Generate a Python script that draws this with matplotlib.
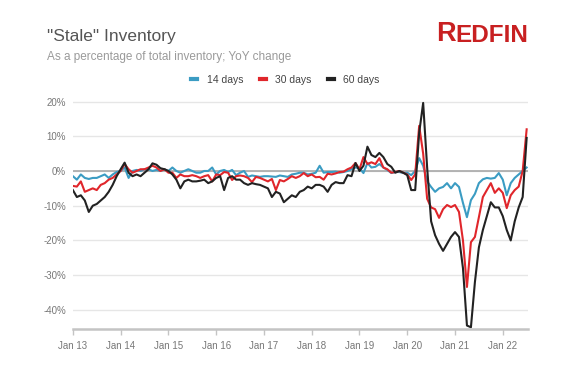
import matplotlib
matplotlib.use('Agg')
import matplotlib.pyplot as plt

plt.rcParams['font.family'] = ['Liberation Sans', 'DejaVu Sans']

# monthly YoY change (%), Jan 2013 - Jul 2022
days14 = [
    -1.5, -2.5, -1.0, -2.0, -2.3, -2.0, -2.0, -1.5, -1.0, -2.0, -1.0, -0.3,
    0.0, 1.0, -2.0, 0.0, 0.3, 0.0, 0.5, 0.5, 0.0, 0.3, 0.0, 0.5,
    0.0, 1.0, 0.0, -0.5, 0.0, 0.5, 0.0, -0.5, -0.5, 0.0, 0.0, 1.0,
    -1.0, 0.0, 0.3, -0.3, 0.3, -1.2, -0.5, 0.0, -1.7, -1.3, -1.5, -1.7,
    -1.5, -1.5, -1.6, -1.7, -1.3, -1.5, -1.7, -1.0, -0.8, -0.5, -0.5, -1.0,
    -0.8, -0.5, 1.5, -0.5, -0.3, -0.3, -0.2, -0.5, -0.3, 0.0, 0.5, 1.0,
    0.8, -0.6, 2.3, 1.0, 1.2, 2.0, 1.0, 0.3, -0.6, -0.3, -0.3, -0.6,
    -0.5, -1.2, 0.0, 3.7, 1.5, -3.0, -4.6, -6.0, -5.0, -4.6, -3.5, -5.0,
    -3.5, -4.6, -9.2, -13.3, -8.4, -6.6, -3.5, -2.4, -2.0, -2.2, -2.0, -0.6,
    -2.5, -7.0, -3.5, -2.0, -1.0, 0.0, 1.0,
]
days30 = [
    -4.3, -4.5, -3.0, -6.0, -5.5, -5.0, -5.5, -4.0, -3.5, -2.5, -2.0, -1.0,
    0.0, 2.0, 0.5, -0.5, 0.0, 0.5, 0.5, 1.0, 1.5, 1.0, 0.0, 0.5,
    -0.5, -0.5, -2.0, -1.0, -1.5, -1.5, -1.2, -1.5, -2.0, -1.5, -1.2, -3.0,
    -1.0, -1.2, -0.3, -0.5, -2.6, -1.5, -1.3, -1.5, -2.0, -3.2, -1.7, -2.0,
    -2.5, -3.0, -2.3, -5.5, -2.6, -3.0, -2.3, -1.5, -2.0, -1.5, -0.6, -1.5,
    -1.0, -1.8, -1.7, -2.5, -0.8, -1.0, -0.7, -0.3, -0.2, 0.5, 1.0, 2.3,
    0.5, 4.0, 2.0, 2.5, 2.0, 3.7, 1.0, 0.5, -0.5, -0.3, 0.0, -0.5,
    -1.0, -2.6, -1.0, 13.0, 5.0, -8.0, -10.5, -11.0, -13.5, -11.0, -9.8, -10.4,
    -9.8, -11.8, -20.0, -33.4, -20.5, -19.0, -13.3, -7.5, -5.5, -3.5, -6.3, -5.0,
    -6.3, -10.7, -7.0, -5.5, -4.5, 0.0, 12.0,
]
days60 = [
    -5.5, -7.5, -7.0, -8.5, -11.8, -10.0, -9.5, -8.5, -7.5, -6.0, -4.0, -1.5,
    0.5, 2.4, -0.5, -1.5, -1.0, -1.5, -0.5, 0.5, 2.2, 1.8, 0.8, 0.5,
    0.0, -1.0, -2.5, -5.0, -3.0, -2.5, -3.0, -3.0, -2.8, -2.5, -3.5, -3.0,
    -2.0, -1.5, -5.5, -2.0, -1.5, -2.5, -2.5, -3.5, -4.0, -3.5, -3.8, -4.0,
    -4.5, -5.0, -7.5, -6.0, -6.5, -9.0, -8.0, -7.0, -7.5, -6.0, -5.5, -4.5,
    -5.0, -4.0, -4.0, -4.5, -6.0, -4.0, -3.2, -3.5, -3.5, -1.2, -1.5, 2.3,
    0.0, 1.5, 7.0, 4.6, 4.0, 5.2, 4.0, 2.0, 1.2, -0.5, 0.0, -0.5,
    -1.2, -5.5, -5.5, 11.0, 19.6, 1.0, -14.5, -18.5, -21.0, -23.0, -21.0, -19.0,
    -17.6, -19.0, -28.0, -44.5, -45.0, -32.0, -22.0, -17.0, -13.0, -9.0, -10.5, -10.5,
    -13.0, -17.0, -20.0, -14.5, -10.5, -7.5, 9.5,
]
year_labels = ['Jan 13', 'Jan 14', 'Jan 15', 'Jan 16', 'Jan 17',
               'Jan 18', 'Jan 19', 'Jan 20', 'Jan 21', 'Jan 22']
y_ticks = [20, 10, 0, -10, -20, -30, -40]

x = list(range(len(days60)))

fig = plt.figure(figsize=(5.83, 3.68), dpi=100)
ax = fig.add_axes([0.125, 0.106, 0.7804, 0.637])

ax.plot(x, days14, color='#3b9cc3', lw=1.5, label='14 days')
ax.plot(x, days30, color='#e0262b', lw=1.5, label='30 days')
ax.plot(x, days60, color='#222222', lw=1.5, label='60 days')

ax.set_xlim(0, 114.3)
ax.set_ylim(-45.5, 22)
ax.set_xticks([12 * i for i in range(len(year_labels))])
ax.set_xticklabels(year_labels)
ax.set_yticks(y_ticks)
ax.set_yticklabels([f'{v}%' for v in y_ticks])

ax.grid(axis='y', color='#e6e6e6', lw=1)
ax.axhline(0, color='#a8a8a8', lw=1.2, zorder=1.5)
ax.set_axisbelow(True)
for s in ['top', 'right', 'left']:
    ax.spines[s].set_visible(False)
ax.spines['bottom'].set_color('#c4c4c4')
ax.spines['bottom'].set_linewidth(1.8)
ax.tick_params(axis='x', direction='out', length=4, width=1, color='#c4c4c4',
               labelcolor='#777777', labelsize=7, pad=5)
ax.tick_params(axis='y', length=0, labelcolor='#777777', labelsize=7, pad=5)

leg = ax.legend(loc='center', bbox_to_anchor=(0.4897, 1 - 80 / 368),
                bbox_transform=fig.transFigure, ncol=3, frameon=False,
                fontsize=7.5, handlelength=0.6, handletextpad=0.87,
                columnspacing=1.6, labelcolor='#444444')
for h in leg.legend_handles:
    h.set_linewidth(3)

fig.text(47 / 583, 1 - 36 / 368, '"Stale" Inventory', fontsize=12.5,
         color='#555555', va='center')
fig.text(47 / 583, 1 - 57 / 368, 'As a percentage of total inventory; YoY change',
         fontsize=8.5, color='#9a9a9a', va='center')

r = fig.text(436 / 583, 1 - 41 / 368, 'R', fontsize=19.5, fontweight='bold',
             color='#c82021', va='baseline')
ax.annotate('EDFIN', xy=(1.0, 0.0), xycoords=r, fontsize=17.5,
            fontweight='bold', color='#c82021', va='bottom', ha='left',
            annotation_clip=False)

fig.savefig('out.png', dpi=100)
